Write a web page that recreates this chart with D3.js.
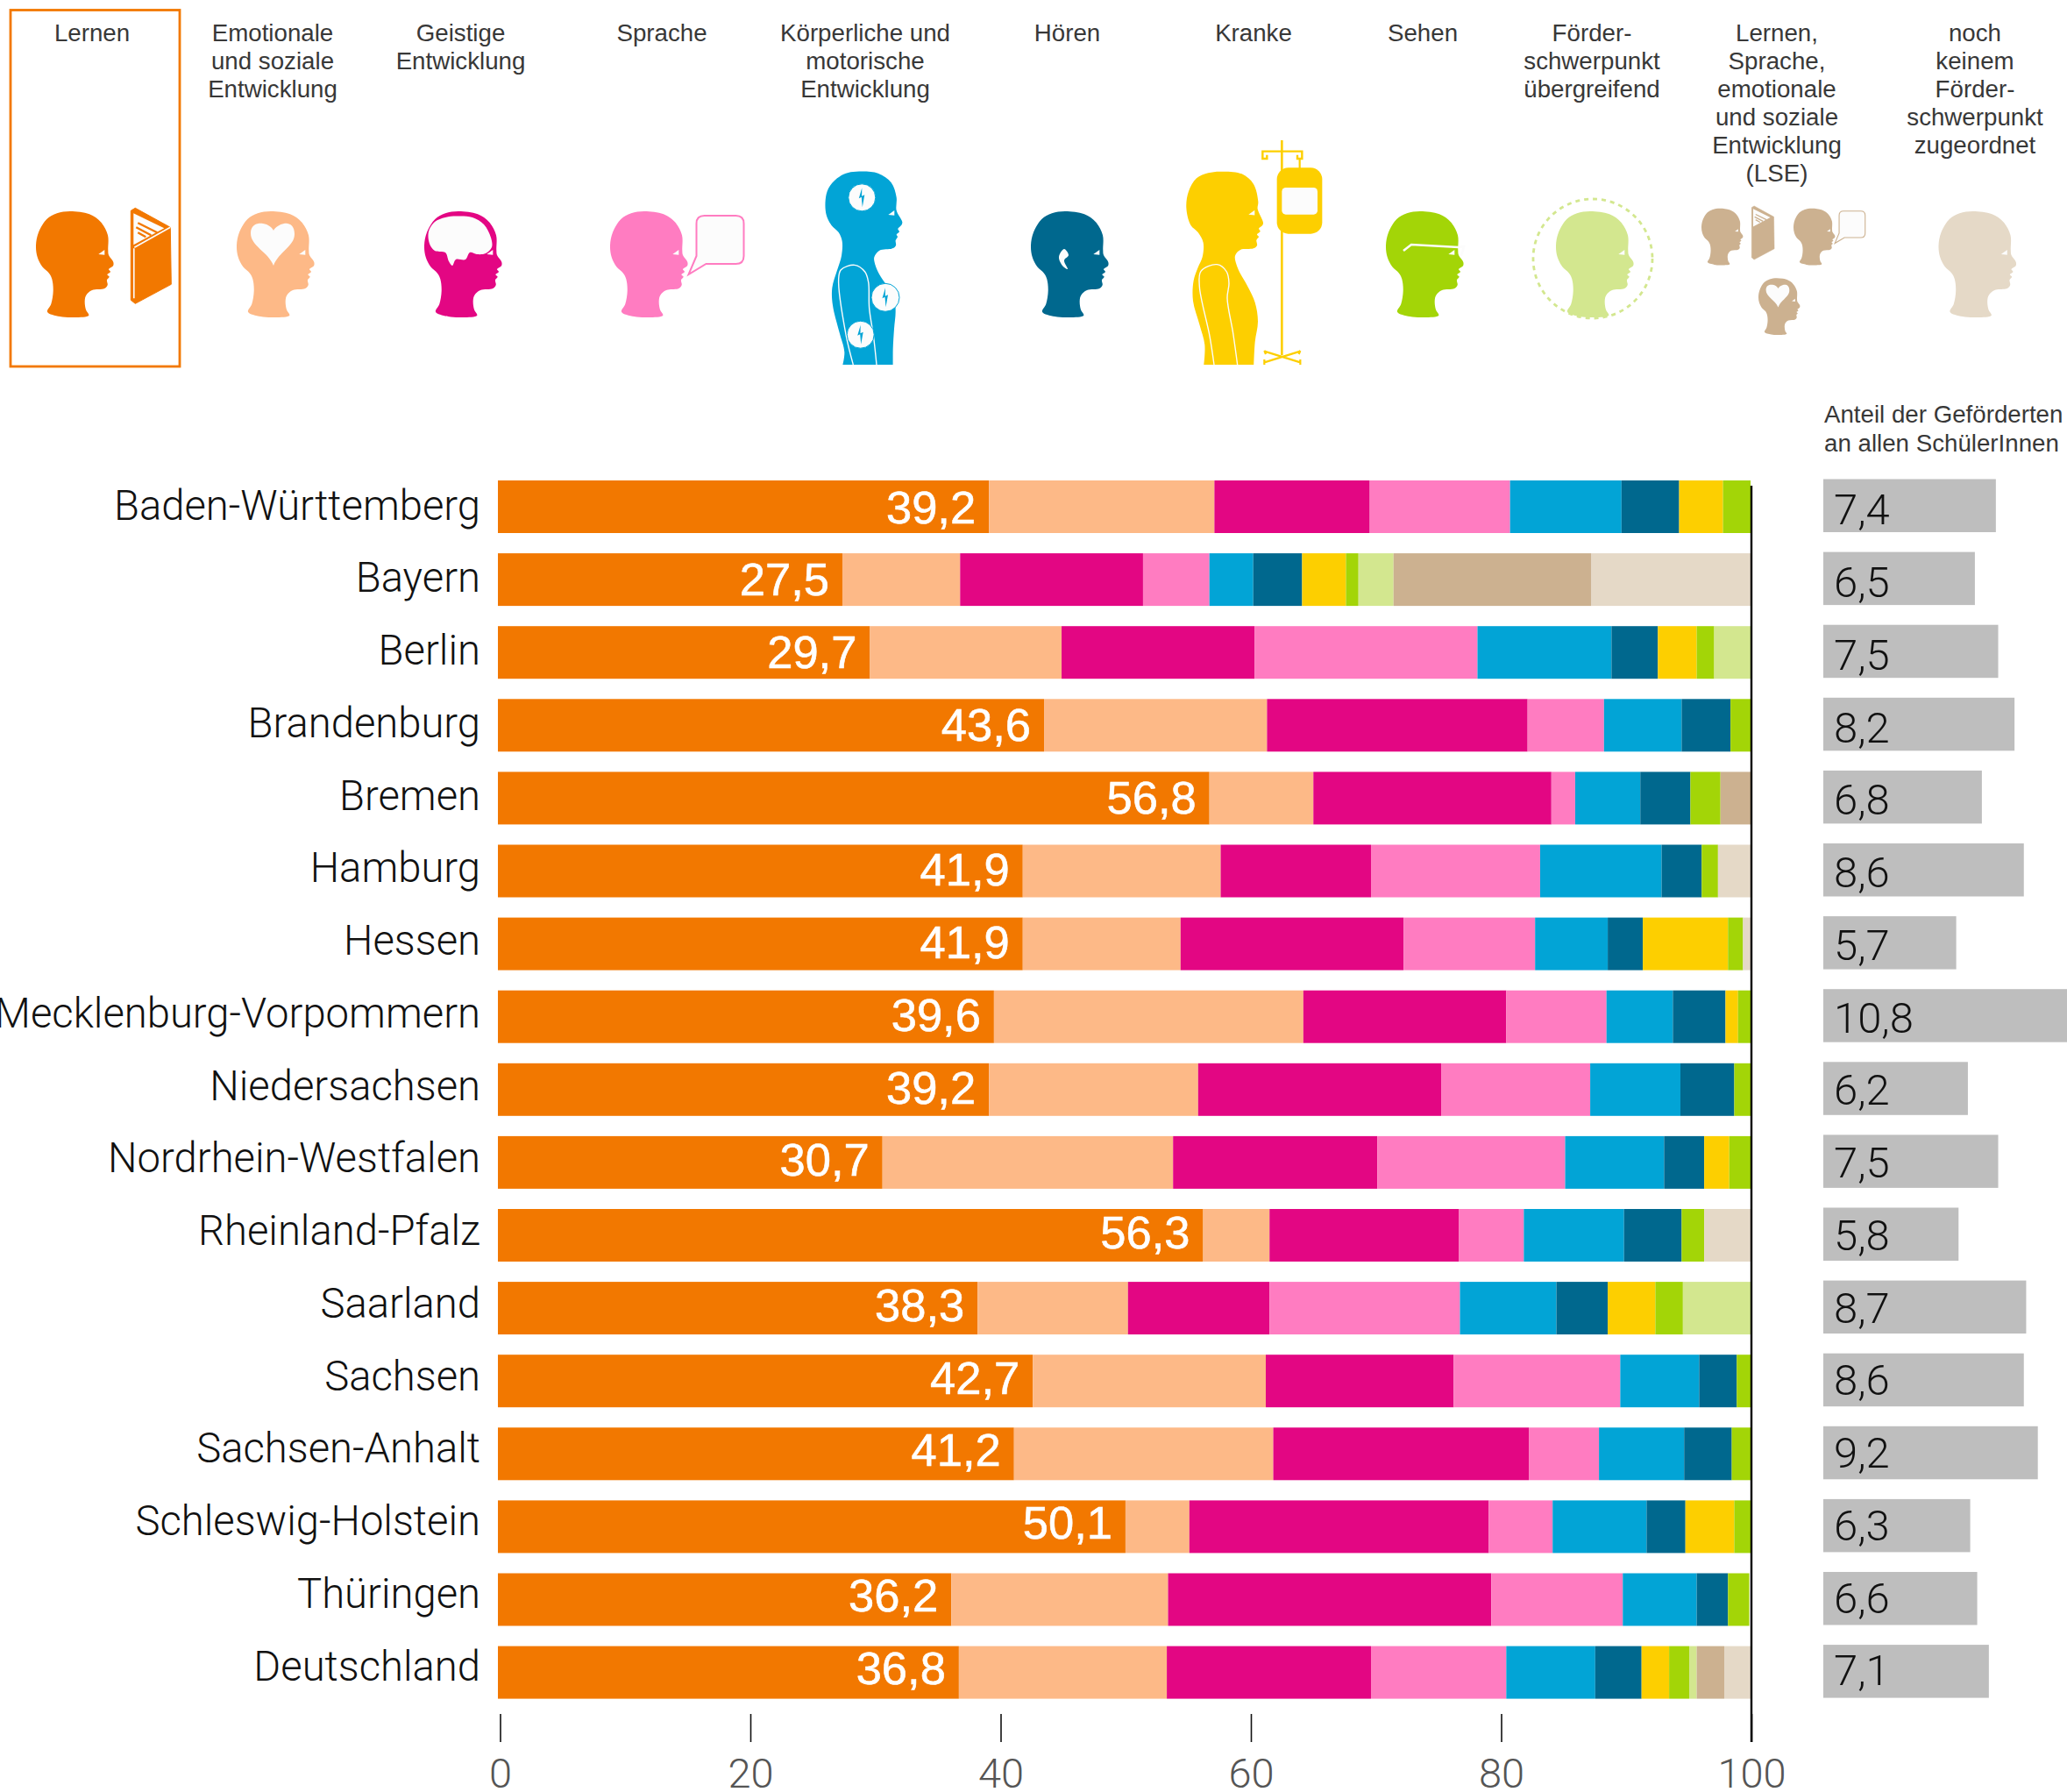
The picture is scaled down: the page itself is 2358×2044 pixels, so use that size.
<!DOCTYPE html>
<html lang="de"><head><meta charset="utf-8">
<script src="https://cdn.jsdelivr.net/npm/d3@7/dist/d3.min.js"></script>
<style>
html,body{margin:0;padding:0;background:#fff;overflow:hidden}
svg{display:block}
text{font-family:"Roboto","Liberation Sans",sans-serif}
.hv text,text.hv{font-family:"Liberation Sans",Arial,sans-serif}
</style></head><body><div id="chart"></div>
<script>
const states=["Baden-Württemberg","Bayern","Berlin","Brandenburg","Bremen","Hamburg","Hessen","Mecklenburg-Vorpommern","Niedersachsen","Nordrhein-Westfalen","Rheinland-Pfalz","Saarland","Sachsen","Sachsen-Anhalt","Schleswig-Holstein","Thüringen","Deutschland"];
const lernen=[39.2,27.5,29.7,43.6,56.8,41.9,41.9,39.6,39.2,30.7,56.3,38.3,42.7,41.2,50.1,36.2,36.8];
const emotional=[18.0,9.4,15.3,17.8,8.3,15.8,12.6,24.7,16.7,23.2,5.3,12.0,18.6,20.7,5.1,17.3,16.6];
const geistig=[12.4,14.6,15.4,20.8,19.0,12.0,17.8,16.2,19.4,16.3,15.1,11.3,15.0,20.4,23.9,25.8,16.3];
const sprache=[11.2,5.3,17.8,6.1,1.9,13.5,10.5,8.0,11.9,15.0,5.2,15.2,13.3,5.6,5.1,10.5,10.8];
const koerper=[8.9,3.5,10.7,6.2,5.2,9.7,5.8,5.3,7.2,7.9,8.0,7.7,6.3,6.8,7.5,5.9,7.1];
const hoeren=[4.6,3.9,3.7,3.9,4.0,3.2,2.8,4.2,4.3,3.2,4.6,4.1,3.0,3.8,3.1,2.5,3.7];
const kranke=[3.5,3.5,3.1,0,0,0,6.8,1.0,0,2.0,0,3.8,0,0,3.9,0,2.2];
const sehen=[2.2,1.0,1.4,1.6,2.4,1.3,1.2,1.0,1.3,1.7,1.8,2.2,1.1,1.5,1.3,1.7,1.6];
const uebergreifend=[0,2.8,2.9,0,0,0,0,0,0,0,0,5.4,0,0,0,0,0.6];
const lse=[0,15.8,0,0,2.4,0,0,0,0,0,0,0,0,0,0,0,2.2];
const nochKeinem=[0,12.7,0,0,0,2.6,0.6,0,0,0,3.7,0,0,0,0,0,2.1];
const anteil=[7.4,6.5,7.5,8.2,6.8,8.6,5.7,10.8,6.2,7.5,5.8,8.7,8.6,9.2,6.3,6.6,7.1];
const axisTicks=[0,20,40,60,80,100];
const seriesKeys=["lernen","emotional","geistig","sprache","koerper","hoeren","kranke","sehen","uebergreifend","lse","noch"];
const seriesColors=["#f27800","#fdb987","#e30683","#ff7cc1","#02a4d6","#00688e","#fdcf00","#a3d507","#d3e78f","#ccb190","#e5d9c7"];
const headers=[
 {lines:["Lernen"],x:105},
 {lines:["Emotionale","und soziale","Entwicklung"],x:311},
 {lines:["Geistige","Entwicklung"],x:525.5},
 {lines:["Sprache"],x:755},
 {lines:["Körperliche und","motorische","Entwicklung"],x:987},
 {lines:["Hören"],x:1217.5},
 {lines:["Kranke"],x:1430},
 {lines:["Sehen"],x:1623},
 {lines:["Förder-","schwerpunkt","übergreifend"],x:1816},
 {lines:["Lernen,","Sprache,","emotionale","und soziale","Entwicklung","(LSE)"],x:2027},
 {lines:["noch","keinem","Förder-","schwerpunkt","zugeordnet"],x:2253}
];
const rows=states.map((s,i)=>({state:s,lernen:lernen[i],emotional:emotional[i],geistig:geistig[i],sprache:sprache[i],koerper:koerper[i],hoeren:hoeren[i],kranke:kranke[i],sehen:sehen[i],uebergreifend:uebergreifend[i],lse:lse[i],noch:nochKeinem[i],anteil:anteil[i]}));
const fmt=v=>v.toFixed(1).replace(".",",");
const W=2358,H=2044;
const svg=d3.select("#chart").append("svg").attr("width",W).attr("height",H).attr("viewBox",`0 0 ${W} ${H}`);
svg.append("rect").attr("width",W).attr("height",H).attr("fill","#fff");
const x=d3.scaleLinear().domain([0,100]).range([568,1997]);
const xAxisScale=d3.scaleLinear().domain([0,100]).range([570.5,1998]);
const y=d3.scaleBand().domain(states).range([548,1937.6]).paddingInner(1-60/83.1).paddingOuter(0);
const yLabel=d3.scalePoint().domain(states).range([0,82.75*16]);
const share=d3.scaleLinear().domain([0,1]).range([2080,2106.6]);
const color=d3.scaleOrdinal().domain(seriesKeys).range(seriesColors);
const stack=d3.stack().keys(seriesKeys)(rows);
// bars
svg.append("g").selectAll("g").data(stack).join("g").attr("fill",d=>color(d.key))
 .selectAll("rect").data(d=>d).join("rect")
 .attr("x",d=>x(d[0])).attr("width",d=>x(d[1])-x(d[0]))
 .attr("y",d=>y(d.data.state)).attr("height",y.bandwidth());
// state labels
svg.append("g").selectAll("text").data(rows).join("text")
 .attr("x",548).attr("y",d=>592.5+yLabel(d.state)).attr("text-anchor","end")
 .attr("font-size",47.2).attr("font-weight",300).attr("fill","#111").text(d=>d.state);
// value labels
svg.append("g").attr("class","hv").selectAll("text").data(rows).join("text")
 .attr("x",d=>x(d.lernen)-15).attr("y",d=>596.5+yLabel(d.state)).attr("text-anchor","end")
 .attr("font-size",52.5).attr("fill","#fff").attr("stroke","#fff").attr("stroke-width",.6).text(d=>fmt(d.lernen));
// share bars
svg.append("g").selectAll("rect").data(rows).join("rect")
 .attr("x",share(0)).attr("width",d=>share(d.anteil)-share(0))
 .attr("y",d=>y(d.state)-1.5).attr("height",60.5).attr("fill","#bebebe");
svg.append("g").selectAll("text").data(rows).join("text")
 .attr("x",share(0)+12).attr("y",d=>598.3+yLabel(d.state)).attr("font-size",49).attr("font-weight",300).attr("fill","#111").text(d=>fmt(d.anteil));
// axis
const axis=d3.axisBottom(xAxisScale).tickValues(axisTicks).tickSize(32).tickPadding(18.6).tickFormat(d=>d);
const ag=svg.append("g").attr("transform","translate(0,1955)").call(axis);
ag.select(".domain").remove();
ag.selectAll("line").attr("stroke","#111").attr("stroke-width",1.6);
ag.selectAll("text").attr("font-size",47).attr("font-weight",300).attr("fill","#555");
svg.append("line").attr("x1",xAxisScale(100)).attr("x2",xAxisScale(100)).attr("y1",554).attr("y2",1987).attr("stroke","#000").attr("stroke-width",2.4);
// headers
const hg=svg.append("g").attr("class","hv").attr("font-size",27.7).attr("fill","#383838").attr("text-anchor","middle");
headers.forEach(h=>{h.lines.forEach((l,i)=>{hg.append("text").attr("x",h.x).attr("y",46.7+i*32.1).text(l);});});
const rh=svg.append("g").attr("class","hv").attr("font-size",27.7).attr("fill","#383838");
rh.append("text").attr("x",2081).attr("y",482).text("Anteil der Geförderten");
rh.append("text").attr("x",2081).attr("y",515).text("an allen SchülerInnen");
// selection frame
svg.append("rect").attr("x",12).attr("y",11.5).attr("width",193).attr("height",406.5).attr("fill","none").attr("stroke","#f27800").attr("stroke-width",2.8);
// icons
const WH="#fcfcfc";
const headPts=[[39,0],[61,3.3],[74,12.3],[82,27.3],[82.3,44],[83,50],[88.3,58],[88,62.3],[83,66.3],[85,69],[81.3,72.3],[83.7,74.7],[81,78.3],[81.7,84],[78.3,88],[64,90],[57.3,95.7],[55.7,102.3],[57,112.3],[60.3,118.7],[44,121],[27.3,120],[13,114.7],[17.3,105.7],[19.7,90.7],[18.3,77.3],[15,70.7],[7.3,63.3],[1.7,52.3],[0,39],[3,24],[12.3,9],[24,2.3]];
const closed=d3.line().curve(d3.curveCatmullRomClosed.alpha(.5));
const open=d3.line().curve(d3.curveCatmullRom.alpha(.5));
const eye=[[71.3,49],[78.3,44],[78.3,49.7]];
const heart="M42 62C36 46 16 40 16 25C16 15 24 13 30 14C36 15 40 18 42 22C44 18 49 15 54 14C60 13 66 16 66 26C66 40 48 46 42 62Z";
const brain=[[37,5.5],[55,7],[68,15],[76,30],[77,41],[70,48],[60,49],[52,47],[47,55],[36,55],[32,62],[28,57],[24,47],[12,45],[6,37],[5,23],[12,12],[24,7]];
const ico=svg.append("g");
function head(px,py,c,s=1){
 const g=ico.append("g").attr("transform",`translate(${px},${py}) scale(${s})`);
 g.append("path").attr("d",closed(headPts)).attr("fill",c);
 g.append("path").attr("d",d3.line()(eye)+"Z").attr("fill",WH);
 return g;
}
function book(px,py,c,s=1,detail=true){
 const g=ico.append("g").attr("transform",`translate(${px},${py}) scale(${s})`).attr("fill",c);
 g.append("path").attr("d","M0 3L5 0L45 22L46 87L5 109L0 105Z").attr("stroke",c).attr("stroke-width",1).attr("stroke-linejoin","round");
 g.append("path").attr("d","M3 6L38 23L3 42Z").attr("fill",WH);
 g.append("path").attr("d","M8 17L30 28M8 28L17 33M6 22L23 31").attr("stroke",c).attr("stroke-width",2.4);
 if(detail){
  g.append("path").attr("d","M3.5 46L3.5 103").attr("stroke",WH).attr("stroke-width",1.6);
  g.append("path").attr("d","M4 45L45 22").attr("stroke",WH).attr("stroke-width",1.6);
 }
 return g;
}
function bubble(px,py,c,s=1){
 ico.append("path").attr("transform",`translate(${px},${py}) scale(${s})`)
  .attr("d","M20 0H56Q65 0 65 9V46Q65 55 56 55H22L2 67L11 46V9Q11 0 20 0Z").attr("fill",WH).attr("stroke",c).attr("stroke-width",2);
}
head(41,241,seriesColors[0]); book(149.3,237.3,seriesColors[0]);
const emo=head(270,241,seriesColors[1]); emo.append("path").attr("d",heart).attr("fill",WH);
const gei=head(484,241,seriesColors[2]); gei.append("path").attr("d",closed(brain)).attr("fill",WH);
head(696,241,seriesColors[3]); bubble(783.5,246,seriesColors[3]);
// Koerper
const hz=([a,b])=>[920+a/3,185+b/3];
const kBody=[[296,693],[296,640],[300,570],[305,510],[300,460],[270,415],[250,385],[235,350],[232,325],[250,302],[295,295],[306,285],[305,268],[312,255],[308,248],[318,238],[313,228],[325,215],[328,205],[308,165],[308,120],[290,70],[245,38],[170,32],[135,38],[105,55],[75,90],[65,130],[68,180],[85,215],[110,240],[122,270],[120,320],[105,370],[88,430],[90,490],[112,580],[130,650],[124,693]].map(hz);
ico.append("path").attr("d",open(kBody)+"Z").attr("fill",seriesColors[4]);
ico.append("path").attr("d",d3.line()(eye)+"Z").attr("transform","translate(942,196)").attr("fill",WH);
ico.append("path").attr("d",open([[160,693],[135,590],[110,400],[118,368],[165,352],[200,375],[212,410],[215,500],[230,600],[240,693]].map(hz))).attr("fill","none").attr("stroke",WH).attr("stroke-width",1.4);
[[983.3,225.3,15.5],[1010,339.3,16],[981.7,381.7,15.5]].forEach(([cx,cy,r])=>{
 ico.append("circle").attr("cx",cx).attr("cy",cy).attr("r",r).attr("fill",WH).attr("stroke",seriesColors[4]).attr("stroke-width",1);
 ico.append("path").attr("transform",`translate(${cx},${cy})`).attr("d","M0-11L-3.5 1L-.5-.5L.5 11L3 -3L-.2-1.5Z").attr("fill",seriesColors[4]);
});
// Hoeren
const hoe=head(1176,241,seriesColors[5]); hoe.append("path").attr("d",closed([[38,43],[32,52],[36,62],[42,66],[38,56],[43,50]])).attr("fill",WH);
// Kranke
const kz=([a,b])=>[1340+a/3,150+b/3];
const kr=[[271,798],[275,720],[285,650],[275,585],[250,530],[215,465],[207,425],[225,405],[270,400],[282,390],[280,372],[288,360],[282,352],[293,342],[288,332],[300,322],[303,312],[284,265],[286,240],[270,180],[230,145],[155,137],[115,142],[75,160],[48,205],[40,260],[55,320],[80,345],[98,380],[95,430],[80,465],[65,510],[63,580],[85,660],[103,730],[100,798]].map(kz);
ico.append("path").attr("d",open(kr)+"Z").attr("fill",seriesColors[6]);
ico.append("path").attr("d",d3.line()(eye)+"Z").attr("transform","translate(1353,195.7)").attr("fill",WH);
ico.append("path").attr("d",open([[135,798],[120,700],[85,530],[90,478],[145,455],[178,480],[186,520],[180,570],[200,690],[215,798]].map(kz))).attr("fill","none").attr("stroke",WH).attr("stroke-width",1.4);
const y6=seriesColors[6];
const pl=d3.line();
ico.append("path").attr("d",pl([[367,30],[367,765]].map(kz))).attr("stroke",y6).attr("stroke-width",2.6).attr("fill","none");
ico.append("path").attr("d",pl([[316,80],[316,93],[301,93],[301,68],[436,68],[436,93],[420,93],[420,80]].map(kz))).attr("stroke",y6).attr("stroke-width",2.4).attr("fill","none");
ico.append("path").attr("d",pl([[428,93],[428,130]].map(kz))).attr("stroke",y6).attr("stroke-width",2.2).attr("fill","none");
ico.append("rect").attr("x",kz([350,0])[0]).attr("y",kz([0,124])[1]).attr("width",155/3).attr("height",226/3).attr("rx",13).attr("fill",y6);
ico.append("rect").attr("x",kz([367,0])[0]).attr("y",kz([0,192])[1]).attr("width",122/3).attr("height",92/3).attr("rx",4.5).attr("fill",WH);
ico.append("path").attr("d",pl([[307,752],[430,790]].map(kz))+pl([[430,752],[307,790]].map(kz))+pl([[307,780],[307,798]].map(kz))+pl([[430,780],[430,798]].map(kz))+pl([[307,750],[312,762]].map(kz))+pl([[430,750],[425,762]].map(kz))).attr("stroke",y6).attr("stroke-width",2.2).attr("fill","none");
// Sehen
head(1581,241,seriesColors[7]);
ico.append("path").attr("d",pl([[1601,286],[1610,279],[1664,282],[1670,281],[1667,292]])).attr("fill","none").attr("stroke",WH).attr("stroke-width",2.6);
// Foerder
head(1775,241,seriesColors[8]);
ico.append("circle").attr("cx",1817).attr("cy",295).attr("r",68).attr("fill","none").attr("stroke",seriesColors[8]).attr("stroke-width",2.8).attr("stroke-dasharray","5 5");
// LSE
const s=.535,tan=seriesColors[9];
head(1941,237.7,tan,s); book(1998.3,235,tan,.56,false);
head(2046,237.7,tan,s); bubble(2092,240.7,tan,.55);
const h3=head(2006,317.3,tan,s); h3.append("path").attr("d",heart).attr("fill",WH);
// noch
head(2211.5,241,seriesColors[10]);
</script></body></html>
